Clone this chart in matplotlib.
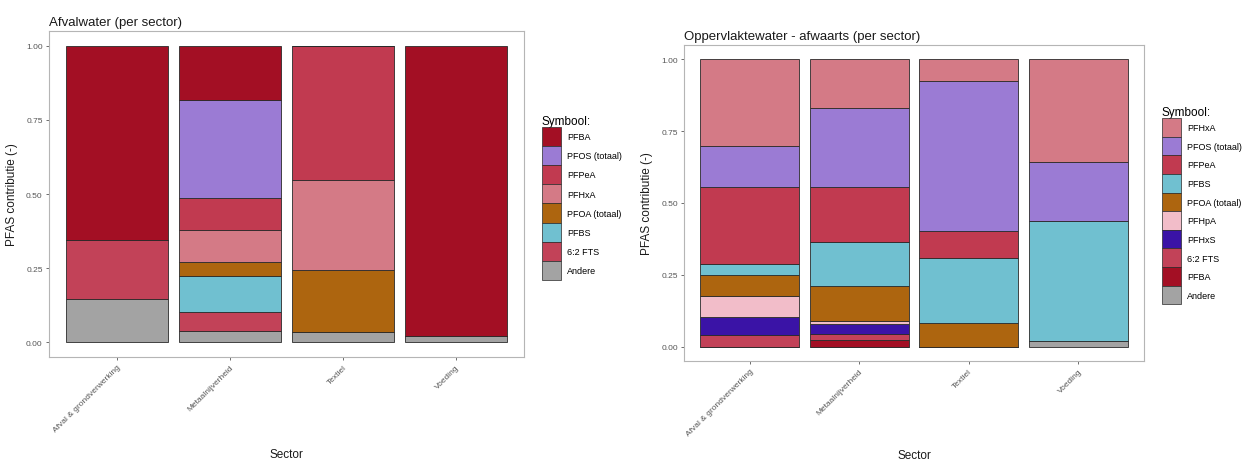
"""Stacked PFAS contribution per sector: Afvalwater vs Oppervlaktewater."""

import matplotlib
matplotlib.use("Agg")
import matplotlib.pyplot as plt
from matplotlib.patches import Patch

plt.rcParams["font.family"] = ["Liberation Sans", "DejaVu Sans"]

sectors = ["Afval & grondverwerking", "Metaalnijverheid", "Textiel", "Voeding"]

# Afvalwater: segment heights per sector (bottom -> top order below)
aw_andere = [0.146, 0.039, 0.034, 0.020]
aw_fts = [0.199, 0.064, 0.0, 0.0]
aw_pfbs = [0.0, 0.119, 0.0, 0.0]
aw_pfoa = [0.0, 0.050, 0.209, 0.0]
aw_pfhxa = [0.0, 0.108, 0.303, 0.0]
aw_pfpea = [0.0, 0.105, 0.454, 0.0]
aw_pfos = [0.0, 0.332, 0.0, 0.0]
aw_pfba = [0.655, 0.183, 0.0, 0.980]

# Oppervlaktewater - afwaarts
ow_andere = [0.0, 0.0, 0.0, 0.020]
ow_pfba = [0.0, 0.023, 0.0, 0.0]
ow_fts = [0.040, 0.021, 0.0, 0.0]
ow_pfhxs = [0.062, 0.035, 0.0, 0.0]
ow_pfhpa = [0.075, 0.011, 0.0, 0.0]
ow_pfoa = [0.072, 0.120, 0.082, 0.0]
ow_pfbs = [0.038, 0.155, 0.225, 0.418]
ow_pfpea = [0.269, 0.191, 0.097, 0.0]
ow_pfos = [0.143, 0.275, 0.522, 0.203]
ow_pfhxa = [0.301, 0.169, 0.074, 0.359]

colors = {
    "PFBA": "#A30F24",
    "PFOS (totaal)": "#9B7BD4",
    "PFPeA": "#C13A50",
    "PFHxA": "#D47A86",
    "PFOA (totaal)": "#AD650F",
    "PFBS": "#70C0D0",
    "6:2 FTS": "#C24258",
    "Andere": "#A3A3A3",
    "PFHpA": "#F2BDC9",
    "PFHxS": "#3A13A6",
}

W, H = 1255, 464
EDGE = "#2a2a2a"


def px_axes(fig, left, top, right, bottom):
    return fig.add_axes([left / W, 1 - bottom / H, (right - left) / W, (bottom - top) / H])


def draw_panel(ax, title, layers):
    x = range(len(sectors))
    base = [0.0] * len(sectors)
    for name, vals in layers:
        ax.bar(x, vals, width=0.9, bottom=base, color=colors[name],
               edgecolor=EDGE, linewidth=0.6)
        base = [b + v for b, v in zip(base, vals)]
    ax.set_xlim(-0.6, 3.6)
    ax.set_ylim(-0.05, 1.05)
    ax.set_yticks([0, 0.25, 0.5, 0.75, 1.0])
    ax.set_yticklabels(["0.00", "0.25", "0.50", "0.75", "1.00"])
    ax.set_xticks(list(x))
    ax.set_xticklabels(sectors, rotation=45, ha="right", rotation_mode="anchor")
    ax.tick_params(labelsize=6, colors="#555555", length=2.5, width=0.6, pad=2)
    for s in ax.spines.values():
        s.set_color("#B5B5B5")
        s.set_linewidth(0.8)
    ax.set_title(title, loc="left", fontsize=9.5, color="#1a1a1a", pad=4)
    ax.set_ylabel("PFAS contributie (-)", fontsize=8.5, color="#1a1a1a", labelpad=6)
    ax.set_xlabel("Sector", fontsize=8.5, color="#1a1a1a")


def add_legend(fig, names, left, top, hh):
    handles = [Patch(facecolor=colors[n], edgecolor=EDGE, linewidth=0.5, label=n) for n in names]
    leg = fig.legend(handles=handles, loc="upper left", bbox_to_anchor=(left / W, 1 - top / H),
                     title="Symbool:", title_fontsize=8.5, fontsize=6.5, frameon=False,
                     handlelength=2.1, handleheight=hh, labelspacing=0.0,
                     handletextpad=0.7, borderpad=0, borderaxespad=0, alignment="left")
    return leg


fig = plt.figure(figsize=(W / 100, H / 100), dpi=100)
fig.patch.set_facecolor("white")

ax1 = px_axes(fig, 49, 32, 524, 358)
draw_panel(ax1, "Afvalwater (per sector)", [
    ("Andere", aw_andere), ("6:2 FTS", aw_fts), ("PFBS", aw_pfbs),
    ("PFOA (totaal)", aw_pfoa), ("PFHxA", aw_pfhxa), ("PFPeA", aw_pfpea),
    ("PFOS (totaal)", aw_pfos), ("PFBA", aw_pfba),
])
ax1.xaxis.set_label_coords(0.5, -0.28)

ax2 = px_axes(fig, 684, 46, 1144, 362)
draw_panel(ax2, "Oppervlaktewater - afwaarts (per sector)", [
    ("Andere", ow_andere), ("PFBA", ow_pfba), ("6:2 FTS", ow_fts),
    ("PFHxS", ow_pfhxs), ("PFHpA", ow_pfhpa), ("PFOA (totaal)", ow_pfoa),
    ("PFBS", ow_pfbs), ("PFPeA", ow_pfpea), ("PFOS (totaal)", ow_pfos),
    ("PFHxA", ow_pfhxa),
])
ax2.xaxis.set_label_coords(0.5, -0.28)

add_legend(fig, ["PFBA", "PFOS (totaal)", "PFPeA", "PFHxA", "PFOA (totaal)",
                 "PFBS", "6:2 FTS", "Andere"], 542, 116, 2.88)
add_legend(fig, ["PFHxA", "PFOS (totaal)", "PFPeA", "PFBS", "PFOA (totaal)",
                 "PFHpA", "PFHxS", "6:2 FTS", "PFBA", "Andere"], 1162, 107, 2.8)

fig.savefig("out.png", dpi=100)
